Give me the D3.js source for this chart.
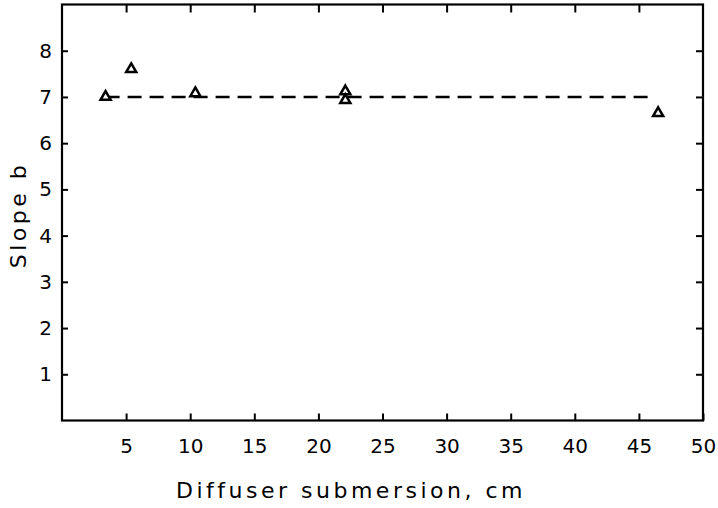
<!DOCTYPE html>
<meta charset="utf-8">
<style>
  body { margin: 0; background: #fff; }
  text { font-family: "DejaVu Sans", Arial, sans-serif; fill: #000; }
  .tick text { font-size: 20px; }
  .frame { fill: none; stroke: #000; stroke-width: 2.2; }
</style>
<body>
<div id="chart"></div>
<script src="https://d3js.org/d3.v7.min.js"></script>
<script>
// data
var xTicks = [5, 10, 15, 20, 25, 30, 35, 40, 45, 50];
var yTicks = [1, 2, 3, 4, 5, 6, 7, 8];
var submersion = [3.4, 5.4, 10.4, 22.1, 22.1, 46.5];
var slope = [7.0, 7.6, 7.08, 7.12, 6.93, 6.65];
var fitLine = [[3.4, 7.0], [46.1, 7.0]];

var width = 718, height = 508;

var svg = d3.select("#chart").append("svg")
    .attr("width", width)
    .attr("height", height);

var x = d3.scaleLinear().domain([0, 50]).range([62, 703]);
var y = d3.scaleLinear().domain([0, 9]).range([420.5, 4.5]);

// frame
svg.append("rect").attr("class", "frame")
    .attr("x", x(0)).attr("y", y(9))
    .attr("width", x(50) - x(0)).attr("height", y(0) - y(9));

// bottom axis, ticks inward
var axBottom = svg.append("g")
    .attr("transform", "translate(0," + y(0) + ")")
    .call(d3.axisBottom(x).tickValues(xTicks).tickSizeInner(-7).tickSizeOuter(0).tickPadding(18));
// top axis, no labels
var axTop = svg.append("g")
    .attr("transform", "translate(0," + y(9) + ")")
    .call(d3.axisTop(x).tickValues(xTicks.slice(0, -1)).tickSizeInner(-8).tickSizeOuter(0).tickFormat(""));
// left axis
var axLeft = svg.append("g")
    .attr("transform", "translate(" + x(0) + ",0)")
    .call(d3.axisLeft(y).tickValues(yTicks).tickSizeInner(-6).tickSizeOuter(0).tickPadding(10));
// right axis
var axRight = svg.append("g")
    .attr("transform", "translate(" + x(50) + ",0)")
    .call(d3.axisRight(y).tickValues(yTicks).tickSizeInner(-7).tickSizeOuter(0).tickFormat(""));

[axBottom, axTop, axLeft, axRight].forEach(function(g) {
  g.select(".domain").remove();
  g.selectAll(".tick line").attr("stroke", "#000").attr("stroke-width", 2);
});

// dashed fit line
svg.append("path")
    .datum(fitLine)
    .attr("d", d3.line().x(function(d) { return x(d[0]); }).y(function(d) { return y(d[1]); }))
    .attr("fill", "none")
    .attr("stroke", "#000")
    .attr("stroke-width", 2.4)
    .attr("stroke-dasharray", "14,8");

// open triangles
var tri = d3.symbol().type(d3.symbolTriangle).size(44);
svg.selectAll(".pt")
    .data(d3.range(submersion.length))
    .enter().append("path")
    .attr("class", "pt")
    .attr("d", tri)
    .attr("transform", function(i) { return "translate(" + x(submersion[i]) + "," + y(slope[i]) + ")"; })
    .attr("fill", "#fff")
    .attr("stroke", "#000")
    .attr("stroke-width", 2.5);

// axis titles
svg.append("text")
    .attr("x", 351).attr("y", 498)
    .attr("text-anchor", "middle")
    .style("font-size", "22px")
    .style("letter-spacing", "3.5px")
    .text("Diffuser submersion, cm");

svg.append("text")
    .attr("transform", "translate(26,215) rotate(-90)")
    .attr("text-anchor", "middle")
    .style("font-size", "22px")
    .style("letter-spacing", "3.5px")
    .text("Slope b");
</script>
</body>
